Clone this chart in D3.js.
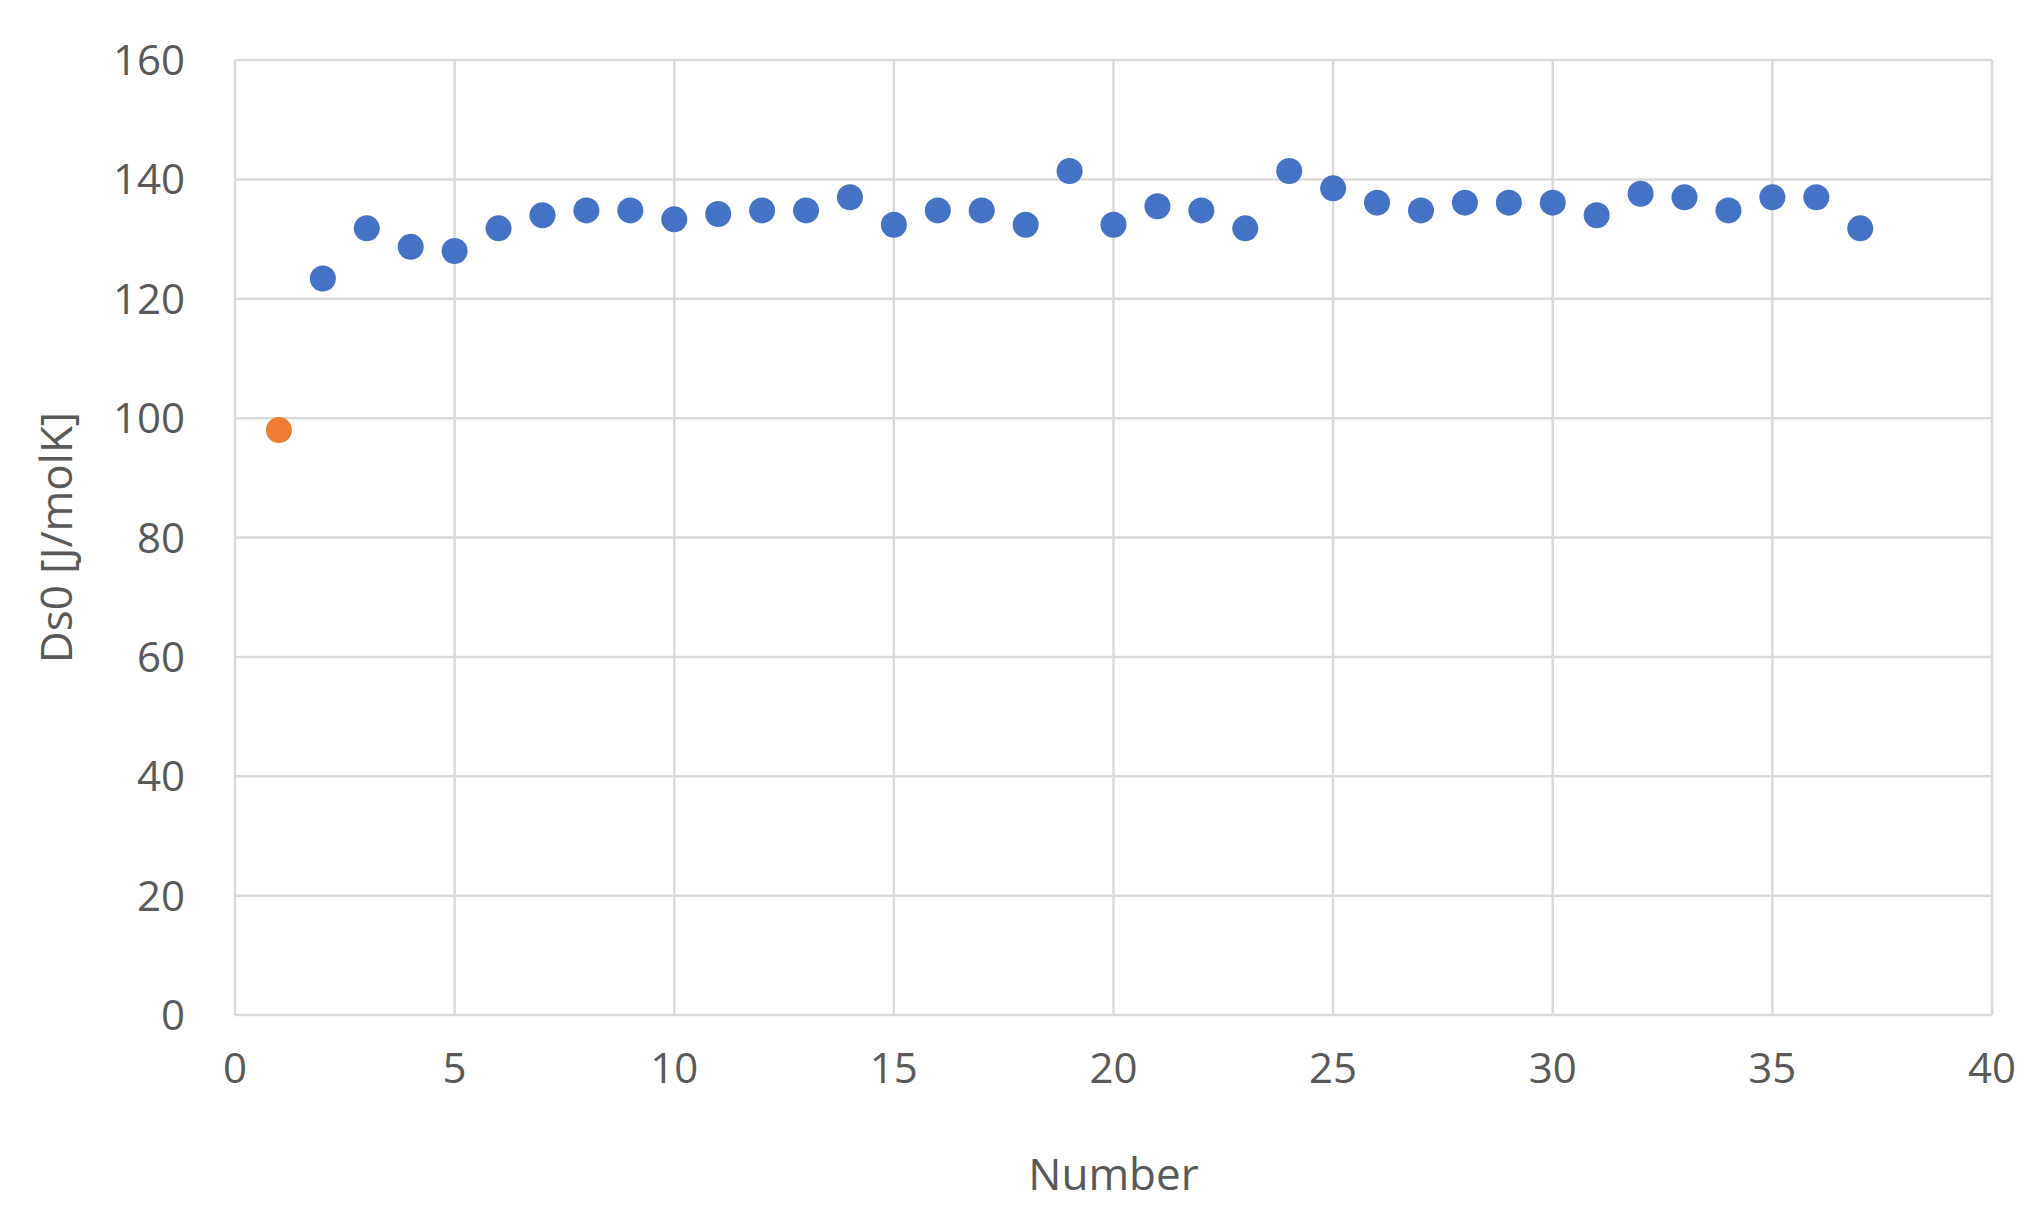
<!DOCTYPE html>
<html>
<head>
<meta charset="utf-8">
<script src="https://cdn.jsdelivr.net/npm/d3@7.9.0/dist/d3.min.js"></script>
<style>
  body { margin: 0; background: #fff; }
  text { font-family: "Open Sans", "Noto Sans", sans-serif; fill: #595959; }
</style>
</head>
<body>
<svg id="chart" width="2037" height="1222"></svg>
<script>
const numbers = d3.range(1, 38);
const ds0 = [98, 123.4, 131.8, 128.7, 128, 131.8, 134, 134.8, 134.8, 133.3,
  134.2, 134.8, 134.8, 137, 132.4, 134.8, 134.8, 132.4, 141.4, 132.4,
  135.5, 134.8, 131.8, 141.4, 138.5, 136.1, 134.8, 136.1, 136.1, 136.1,
  134, 137.6, 137, 134.8, 137, 137, 131.8];
const xTicks = [0, 5, 10, 15, 20, 25, 30, 35, 40];
const yTicks = [0, 20, 40, 60, 80, 100, 120, 140, 160];

const svg = d3.select('#chart');
const plotLeft = 235, plotRight = 1992, plotTop = 60, plotBottom = 1015;

let x = d3.scaleLinear().domain([0, 40]).range([plotLeft, plotRight]);
let y = d3.scaleLinear().domain([0, 160]).range([plotBottom, plotTop]);

// gridlines
svg.append('g').selectAll('line').data(xTicks).join('line')
  .attr('x1', d => x(d)).attr('x2', d => x(d))
  .attr('y1', plotTop).attr('y2', plotBottom)
  .attr('stroke', '#d9d9d9').attr('stroke-width', 2.5);
svg.append('g').selectAll('line').data(yTicks).join('line')
  .attr('x1', plotLeft).attr('x2', plotRight)
  .attr('y1', d => y(d)).attr('y2', d => y(d))
  .attr('stroke', '#d9d9d9').attr('stroke-width', 2.5);

// tick labels
svg.append('g').selectAll('text').data(xTicks).join('text')
  .attr('x', d => x(d)).attr('y', plotBottom + 68)
  .attr('text-anchor', 'middle').attr('font-size', 42)
  .text(d => d);
svg.append('g').selectAll('text').data(yTicks).join('text')
  .attr('x', plotLeft - 50).attr('y', d => y(d) + 15)
  .attr('text-anchor', 'end').attr('font-size', 42)
  .text(d => d);

// axis titles
svg.append('text').attr('x', (plotLeft + plotRight) / 2).attr('y', 1190)
  .attr('text-anchor', 'middle').attr('font-size', 44).text('Number');
svg.append('text').attr('transform', 'translate(72,' + ((plotTop + plotBottom) / 2) + ') rotate(-90)')
  .attr('text-anchor', 'middle').attr('font-size', 44).text('Ds0 [J/molK]');

// points
svg.append('g').selectAll('circle').data(numbers).join('circle')
  .attr('cx', d => x(d)).attr('cy', (d, i) => y(ds0[i]))
  .attr('r', 13)
  .attr('fill', (d, i) => i === 0 ? '#ed7d31' : '#4472c4');
</script>
</body>
</html>
